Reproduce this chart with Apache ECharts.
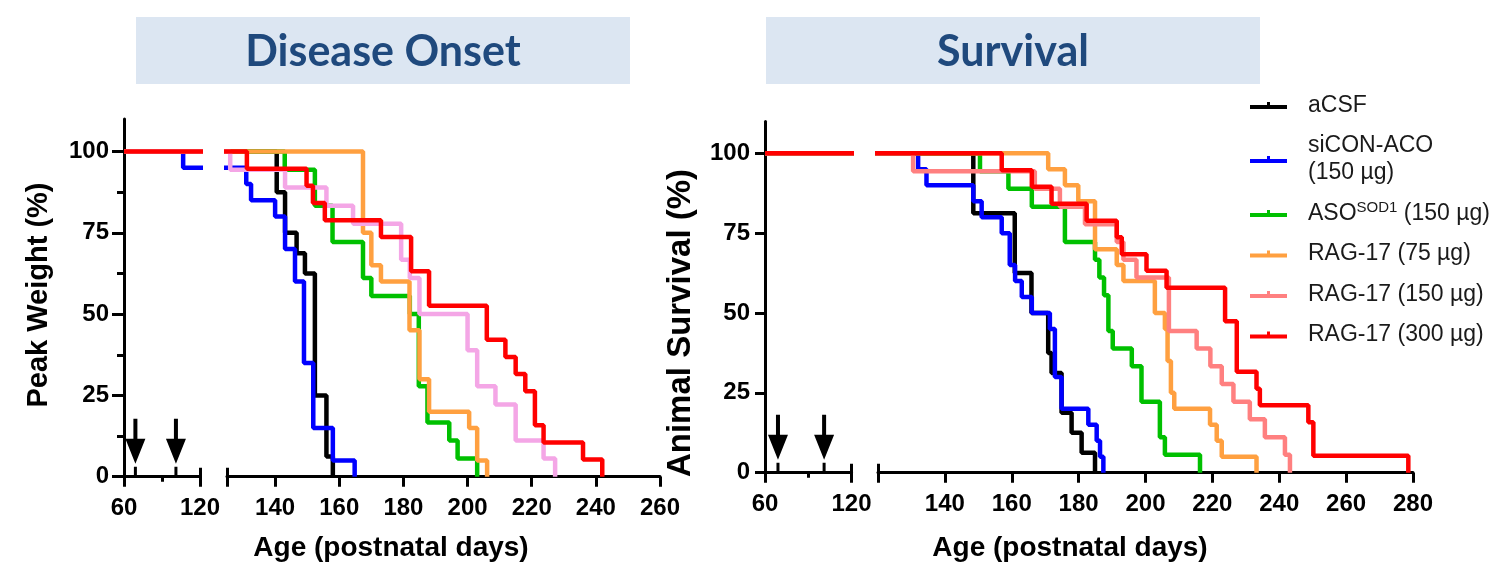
<!DOCTYPE html>
<html><head><meta charset="utf-8">
<script src="https://cdn.jsdelivr.net/npm/echarts@6/dist/echarts.min.js"></script>
<style>html,body{margin:0;padding:0;background:#fff}#c{width:1497px;height:562px}</style>
</head><body><div id="c"></div>
<script>
// ---------- data ----------
const groups = ['aCSF', 'siCON-ACO (150 µg)', 'ASO-SOD1 (150 µg)', 'RAG-17 (75 µg)', 'RAG-17 (150 µg)', 'RAG-17 (300 µg)'];
const colorsOnset = ['#000000', '#0000ff', '#00c000', '#ffa040', '#f4a6e6', '#ff0000'];
const colorsSurv = ['#000000', '#0000ff', '#00c000', '#ffa040', '#ff8080', '#ff0000'];
const injectionDays = [69, 101];
const yTicks = [0, 25, 50, 75, 100];
const yMinorTicks = [12.5, 37.5, 62.5, 87.5];
const onsetXLabels = [140, 160, 180, 200, 220, 240, 260];
const survXLabels = [140, 160, 180, 200, 220, 240, 260, 280];

// Disease onset: [age (days), % at peak weight after the step]
const onsetACSF = [[60,100],[140.5,87.5],[143.1,75],[146.7,68.75],[149.3,62.5],[152.4,25],[156,6.25],[158,0]];
const onsetSiCON = [[60,100],[106.7,95],[131,90],[132.5,85],[140,80],[143.1,70],[146.2,60],[149,35],[151.9,15],[158,5],[164.8,0]];
const onsetASO = [[60,100],[143,94.4],[152.4,83.3],[157.9,72.2],[167.4,61.1],[170,55.6],[182,50],[184.8,27.8],[187.5,16.7],[194.3,11.1],[196.9,5.6],[203,0]];
const onsetRAG75 = [[60,100],[167.4,75],[170,65],[173,60],[181.9,45],[185,30],[188,20],[200.5,15],[203,5],[206.1,0]];
const onsetRAG150 = [[60,100],[126,94.4],[143.1,88.9],[156,83.3],[164.3,77.8],[179.3,66.7],[182,61.1],[185,50],[200,38.9],[203,27.8],[208.7,22.2],[215,11.1],[223.7,5.6],[227.3,0]];
const onsetRAG300 = [[60,100],[131.2,94.7],[149.8,89.5],[151.8,84.2],[155.5,78.9],[173,73.7],[182.4,63.2],[188,52.6],[206,42.1],[211.8,36.8],[215,31.6],[218,26.3],[221,15.8],[223.7,10.5],[236,5.3],[242,0]];

// Survival: [age (days), % surviving after the step]
const survACSF = [[60,100],[148.5,81.25],[160.9,62.5],[165.9,50],[170.9,37.5],[171.9,31.25],[174.9,18.75],[177.9,12.5],[180.9,6.25],[184.9,0]];
const survSiCON = [[60,100],[132,95],[134.5,90],[148.5,85],[151,80],[157,75],[159.4,65],[161,60],[163,55],[166,50],[171.4,45],[172.9,30],[174.9,20],[182.9,15],[185.4,10],[186.4,5],[187.4,0]];
const survASO = [[60,100],[150.5,94.4],[159,88.9],[166,83.3],[175.9,72.2],[184.9,66.7],[186.2,61.1],[187.6,55.6],[188.9,44.4],[190.2,38.9],[195.9,33.3],[198.8,22.2],[204.3,11.1],[205.8,5.6],[216.3,0]];
const survRAG75 = [[60,100],[170.9,95],[175.9,90],[179.9,85],[184.9,70],[191.4,65],[193.4,60],[202.8,50],[205.8,45],[206.6,35],[207.6,25],[208.6,20],[219.3,15],[221.3,10],[222.8,5],[233.2,0]];
const survRAG150 = [[60,100],[130.5,94.4],[166.9,88.9],[174.4,83.3],[181.9,77.8],[191.4,72.2],[193.4,66.7],[197.3,61.1],[207,44.4],[215.3,38.9],[219.4,33.3],[222.8,27.8],[226.3,22.2],[231.2,16.7],[235.7,11.1],[241.7,5.6],[243.2,0]];
const survRAG300 = [[60,100],[157,94.7],[166,89.5],[171.9,84.2],[182.4,78.9],[191.4,73.7],[192.9,68.4],[200.3,63.2],[206.3,57.9],[223.8,47.4],[227.3,31.6],[233.2,26.3],[234.2,21.1],[248.7,15.8],[250.2,5.3],[278.6,0]];

const onsetSeries = [onsetACSF, onsetSiCON, onsetASO, onsetRAG75, onsetRAG150, onsetRAG300];
const survSeries = [survACSF, survSiCON, survASO, survRAG75, survRAG150, survRAG300];

// ---------- layout / style ----------
const FONT = 'Liberation Sans, Arial, sans-serif';
const BLACK = '#000';
const grids = [
  {left: 124, top: 119, width: 76, height: 357.7},
  {left: 227, top: 119, width: 433, height: 357.7},
  {left: 765, top: 121.4, width: 86.5, height: 351.3},
  {left: 878, top: 121.4, width: 535, height: 351.3}
];
const panels = [
  {series: onsetSeries, colors: colorsOnset, minorY: true, yTickLen: 12,
   segs: [{grid: 0, min: 60, max: 120}, {grid: 1, min: 125, max: 260, labels: onsetXLabels}]},
  {series: survSeries, colors: colorsSurv, minorY: false, yTickLen: 10,
   segs: [{grid: 2, min: 60, max: 120}, {grid: 3, min: 120, max: 280, labels: survXLabels}]}
];
const arrowPath = 'path://M8,0L12,0L12,20L20,20L10,45L0,20L8,20Z M8.5,48L11.5,48L11.5,58L8.5,58Z';
const legendIcon = 'path://M0,3L37,3L37,7L0,7Z M17,0L20,0L20,3L17,3Z';

const xAxes = [], yAxes = [], series = [];
const tickStyle = {color: BLACK, width: 3};
const labelStyle = {fontFamily: FONT, fontSize: 24, fontWeight: 'bold', color: BLACK};

function overlayX(grid, min, max, values, len, inside) {
  xAxes.push({type: 'value', gridIndex: grid, min, max, position: 'bottom',
    axisLine: {show: false}, splitLine: {show: false}, axisLabel: {show: false},
    axisTick: {show: true, inside, customValues: values, length: len, lineStyle: tickStyle}});
}

panels.forEach(p => {
  p.segs.forEach((s, si) => {
    const first = si === 0;
    const xi = xAxes.length;
    xAxes.push({type: 'value', gridIndex: s.grid, min: s.min, max: s.max, position: 'bottom',
      axisLine: {show: true, onZero: false, lineStyle: {color: BLACK, width: 3}},
      axisTick: {show: true, customValues: first ? [s.min, s.max] : [s.min].concat(s.labels), length: 10, lineStyle: tickStyle},
      axisLabel: Object.assign({customValues: first ? [s.min, s.max] : s.labels, margin: 20}, labelStyle),
      splitLine: {show: false}});
    if (first) {
      overlayX(s.grid, s.min, s.max, [(s.min + s.max) / 2], 5, false);
      overlayX(s.grid, s.min, s.max, [s.max], 9, true);
    } else {
      overlayX(s.grid, s.min, s.max, [s.min], 9, true);
    }
    const yi = yAxes.length;
    if (first) {
      yAxes.push({type: 'value', gridIndex: s.grid, min: 0, max: 110, position: 'left',
        axisLine: {show: true, onZero: false, lineStyle: {color: BLACK, width: 3}},
        axisTick: {show: true, customValues: yTicks, length: p.yTickLen, lineStyle: tickStyle},
        axisLabel: Object.assign({customValues: yTicks, margin: 15}, labelStyle),
        splitLine: {show: false}});
      if (p.minorY) {
        yAxes.push({type: 'value', gridIndex: s.grid, min: 0, max: 110, position: 'left',
          axisLine: {show: false}, axisLabel: {show: false}, splitLine: {show: false},
          axisTick: {show: true, customValues: yMinorTicks, length: 7, lineStyle: tickStyle}});
      }
    } else {
      yAxes.push({type: 'value', gridIndex: s.grid, min: 0, max: 110, show: false});
    }
    p.series.forEach((d, k) => {
      const ser = {
        type: 'line', name: groups[k], xAxisIndex: xi, yAxisIndex: yi, data: d,
        step: 'end', symbol: 'none', showSymbol: false, clip: true, silent: true,
        lineStyle: {color: p.colors[k], width: 4.5}, itemStyle: {color: p.colors[k]}
      };
      if (first && k === p.series.length - 1) {
        ser.markPoint = {
          symbol: arrowPath, symbolSize: [20, 58], symbolKeepAspect: false, symbolOffset: [0, '-50%'],
          itemStyle: {color: BLACK}, label: {show: false}, silent: true,
          data: injectionDays.map(day => ({coord: [day, 0]}))
        };
      }
      series.push(ser);
    });
  });
});

const chart = echarts.init(document.getElementById('c'), null, {renderer: 'canvas'});
chart.setOption({
  animation: false,
  backgroundColor: '#fff',
  grid: grids,
  xAxis: xAxes,
  yAxis: yAxes,
  series: series,
  legend: {
    orient: 'vertical', left: 1250, top: 92, padding: 0, itemGap: 13.5,
    itemWidth: 37, itemHeight: 7, icon: legendIcon, symbolKeepAspect: false, selectedMode: false,
    itemStyle: {borderWidth: 0},
    textStyle: {fontFamily: FONT, fontSize: 23, lineHeight: 27, color: '#1a1a1a', padding: [0, 0, 0, 16],
      rich: {sup: {fontFamily: FONT, fontSize: 15, lineHeight: 20, verticalAlign: 'top', color: '#1a1a1a'}}},
    formatter: name => {
      if (name === groups[1]) return 'siCON-ACO\n(150 µg)';
      if (name === groups[2]) return 'ASO{sup|SOD1} (150 µg)';
      return name;
    },
    data: groups.map((g, i) => ({name: g, itemStyle: {color: colorsSurv[i], borderWidth: 0}}))
  },
  graphic: [
    {type: 'rect', silent: true, shape: {x: 136, y: 17, width: 494, height: 67}, style: {fill: '#dce6f2'}},
    {type: 'text', silent: true, x: 383, y: 52, style: {text: 'Disease Onset', font: 'bold 43px Lato', fill: '#1f497d', align: 'center', verticalAlign: 'middle'}},
    {type: 'rect', silent: true, shape: {x: 766, y: 17, width: 494, height: 67}, style: {fill: '#dce6f2'}},
    {type: 'text', silent: true, x: 1013, y: 52, style: {text: 'Survival', font: 'bold 43px Lato', fill: '#1f497d', align: 'center', verticalAlign: 'middle'}},
    {type: 'text', silent: true, x: 39, y: 295, rotation: Math.PI / 2, style: {text: 'Peak Weight (%)', font: 'bold 29px ' + FONT, fill: BLACK, align: 'center', verticalAlign: 'middle'}},
    {type: 'text', silent: true, x: 681, y: 323, rotation: Math.PI / 2, style: {text: 'Animal Survival (%)', font: 'bold 33px ' + FONT, fill: BLACK, align: 'center', verticalAlign: 'middle'}},
    {type: 'text', silent: true, x: 391, y: 548, style: {text: 'Age (postnatal days)', font: 'bold 28px ' + FONT, fill: BLACK, align: 'center', verticalAlign: 'middle'}},
    {type: 'text', silent: true, x: 1070, y: 548, style: {text: 'Age (postnatal days)', font: 'bold 28px ' + FONT, fill: BLACK, align: 'center', verticalAlign: 'middle'}}
  ]
});
</script>
</body></html>
